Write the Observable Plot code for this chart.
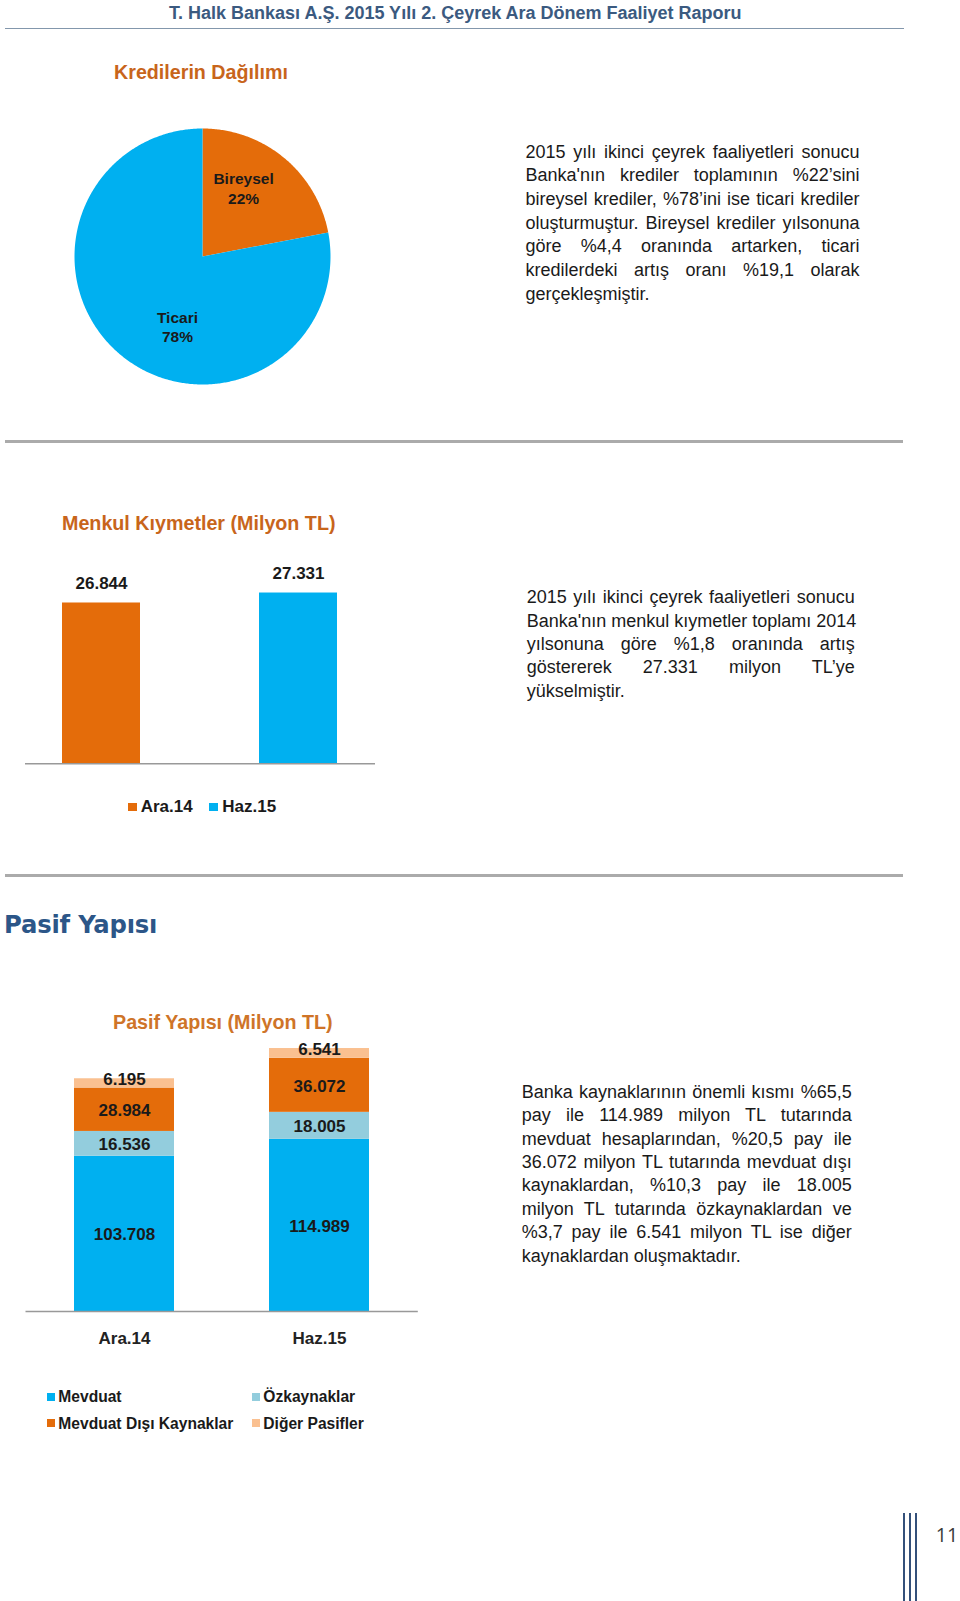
<!DOCTYPE html>
<html><head><meta charset="utf-8">
<script src="https://cdn.jsdelivr.net/npm/d3@7"></script>
<script src="https://cdn.jsdelivr.net/npm/@observablehq/plot@0.6"></script>
<style>
body{margin:0;background:#fff;}
#page{position:relative;width:960px;height:1601px;overflow:hidden;font-family:"Liberation Sans",Arial,sans-serif;color:#1a1a1a;}
.abs{position:absolute;}
.title{font-weight:bold;font-size:19.7px;line-height:24px;white-space:nowrap;}
.para{font-size:18px;color:#1a1a1a;}
.pline{white-space:nowrap;display:block;}
.leg{font-weight:bold;white-space:nowrap;}
</style></head><body><div id="page"></div>
<script>
// ---------- data ----------
const kredilerLabels = ["Bireysel", "Ticari"];
const kredilerPct = [22, 78];

const menkulPeriods = ["Ara.14", "Haz.15"];
const menkulValues = [26844, 27331];
const menkulAxis = [19000, 28000];

const pasifPeriods = ["Ara.14", "Haz.15"];
const pasifSeries = ["Mevduat", "Özkaynaklar", "Mevduat Dışı Kaynaklar", "Diğer Pasifler"];
const mevduat = [103708, 114989];
const ozkaynaklar = [16536, 18005];
const mevduatDisi = [28984, 36072];
const digerPasifler = [6195, 6541];
const pasifAxis = [0, 180000];

// ---------- styles ----------
const ORANGE = "#E46C0A", BLUE = "#00B0F0", LIGHTBLUE = "#93CDDD", PEACH = "#FAC090";
const TITLE_ORANGE = "#C8651B";
const fmt = d3.formatLocale({decimal: ",", thousands: ".", grouping: [3], currency: ["", ""]}).format(",d");
const page = document.getElementById("page");

function div(css, html) {
  const d = document.createElement("div");
  d.className = "abs";
  d.style.cssText += css;
  if (html != null) d.innerHTML = html;
  page.appendChild(d);
  return d;
}
function place(node, left, top) {
  node.style.position = "absolute";
  node.style.left = left + "px";
  node.style.top = top + "px";
  page.appendChild(node);
}
function para(lines, left, firstCenter, width, lh) {
  const box = div(`left:${left}px;top:${firstCenter - lh / 2}px;width:${width}px;`);
  box.className = "abs para";
  lines.forEach((t, i) => {
    const s = document.createElement("span");
    s.className = "pline";
    s.style.height = lh + "px";
    s.style.lineHeight = lh + "px";
    s.textContent = t;
    box.appendChild(s);
    if (i < lines.length - 1) {
      const m = document.createElement("span");
      m.style.cssText = "white-space:nowrap;visibility:hidden;position:absolute;";
      m.textContent = t;
      box.appendChild(m);
      const nat = m.getBoundingClientRect().width;
      box.removeChild(m);
      const spaces = (t.match(/ /g) || []).length;
      if (spaces > 0 && nat < width) s.style.wordSpacing = ((width - nat) / spaces) + "px";
    }
  });
}

// ---------- header ----------
div(`left:169px;top:3px;font-weight:bold;font-size:18px;line-height:20px;color:#3B5A80;white-space:nowrap;`,
  "T. Halk Bankası A.Ş. 2015 Yılı 2. Çeyrek Ara Dönem Faaliyet Raporu");
div("left:5px;top:27.5px;width:899px;height:1.5px;background:#8397AC;");

// ---------- section 1 : pie ----------
div(`left:114px;top:${71.5 - 12}px;color:${TITLE_ORANGE};`, "Kredilerin Dağılımı").className = "abs title";

const arcs = d3.pie().sort(null)(kredilerPct);
const piePts = [];
const pieLbl = [];
arcs.forEach((a, i) => {
  const label = kredilerLabels[i];
  piePts.push({label, x: 0, y: 0});
  const n = Math.max(2, Math.ceil((a.endAngle - a.startAngle) / 0.01));
  for (let k = 0; k <= n; k++) {
    const t = a.startAngle + (a.endAngle - a.startAngle) * k / n;
    piePts.push({label, x: Math.sin(t), y: Math.cos(t)});
  }
  const mid = (a.startAngle + a.endAngle) / 2;
  pieLbl.push({label, text: `${label}\n${kredilerPct[i]}%`, x: Math.sin(mid) * 0.65, y: Math.cos(mid) * 0.65});
});
const pie = Plot.plot({
  width: 260, height: 260, margin: 0,
  style: {fontFamily: "Liberation Sans, Arial, sans-serif", background: "transparent"},
  x: {domain: [-1, 1], range: [2, 258], axis: null},
  y: {domain: [-1, 1], range: [258, 2], axis: null},
  color: {domain: kredilerLabels, range: [ORANGE, BLUE]},
  marks: [
    Plot.line(piePts, {x: "x", y: "y", z: "label", fill: "label", stroke: "none"}),
    Plot.text(pieLbl, {filter: d => d.label === "Bireysel", x: "x", y: "y", text: "text", dx: -12, dy: -4.5,
      fontSize: 15.5, fontWeight: "bold", fill: "#1a1a1a", lineHeight: 1.23}),
    Plot.text(pieLbl, {filter: d => d.label === "Ticari", x: "x", y: "y", text: "text", dx: 28, dy: 6,
      fontSize: 15.5, fontWeight: "bold", fill: "#1a1a1a", lineHeight: 1.23})
  ]
});
place(pie, 72, 126);

para([
  "2015 yılı ikinci çeyrek faaliyetleri sonucu",
  "Banka'nın krediler toplamının %22’sini",
  "bireysel krediler, %78’ini ise ticari krediler",
  "oluşturmuştur. Bireysel krediler yılsonuna",
  "göre %4,4 oranında artarken, ticari",
  "kredilerdeki artış oranı %19,1 olarak",
  "gerçekleşmiştir."
], 525.5, 152.5, 334, 23.7);

div("left:5px;top:440px;width:898px;height:3px;background:#ABABAB;");

// ---------- section 2 : menkul kıymetler ----------
div(`left:62px;top:${523 - 12}px;color:${TITLE_ORANGE};`, "Menkul Kıymetler (Milyon TL)").className = "abs title";

const menkulData = menkulPeriods.map((p, i) => ({period: p, value: menkulValues[i]}));
const menkul = Plot.plot({
  width: 400, height: 210,
  marginLeft: 25, marginRight: 25, marginTop: 18.8, marginBottom: 6.7,
  style: {fontFamily: "Liberation Sans, Arial, sans-serif", background: "transparent"},
  x: {domain: menkulPeriods, paddingInner: 0.604, paddingOuter: 0.19, axis: null},
  y: {domain: menkulAxis, clamp: true, axis: null},
  color: {domain: menkulPeriods, range: [ORANGE, BLUE]},
  marks: [
    Plot.barY(menkulData, {x: "period", y: "value", fill: "period"}),
    Plot.ruleY([menkulAxis[0]], {stroke: "#999", strokeWidth: 1.5}),
    Plot.text(menkulData, {x: "period", y: "value", text: d => fmt(d.value), dy: -19,
      fontSize: 17, fontWeight: "bold", fill: "#1a1a1a"})
  ]
});
place(menkul, 0, 560);

// legend 1
const leg1X = [127.7, 209.3];
menkulPeriods.forEach((p, i) => {
  const x = leg1X[i];
  div(`left:${x}px;top:802.5px;width:9px;height:8.5px;background:${i === 0 ? ORANGE : BLUE};`);
  div(`left:${x + 13}px;top:${806.7 - 10}px;font-size:17px;line-height:20px;`, p).className = "abs leg";
});

para([
  "2015 yılı ikinci çeyrek faaliyetleri sonucu",
  "Banka'nın menkul kıymetler toplamı 2014",
  "yılsonuna göre %1,8 oranında artış",
  "göstererek 27.331 milyon TL’ye",
  "yükselmiştir."
], 526.7, 598, 328, 23.3);

div("left:5px;top:874px;width:898px;height:3px;background:#ABABAB;");

// ---------- section 3 : pasif yapısı ----------
div(`left:4px;top:${925 - 15}px;font-family:'DejaVu Sans',sans-serif;font-weight:bold;font-size:24.3px;line-height:30px;color:#2C5688;white-space:nowrap;letter-spacing:-0.2px;`, "Pasif Yapısı");
div(`left:113px;top:${1022 - 12}px;color:#CF7428;`, "Pasif Yapısı (Milyon TL)").className = "abs title";

const pasifCols = [mevduat, ozkaynaklar, mevduatDisi, digerPasifler];
const pasifData = [];
pasifSeries.forEach((s, j) => pasifPeriods.forEach((p, i) => pasifData.push({period: p, series: s, value: pasifCols[j][i]})));
const topSeries = pasifSeries[pasifSeries.length - 1];
const stackOpts = {x: "period", y: "value", z: "series", order: pasifSeries,
  text: d => fmt(d.value), fontSize: 17, fontWeight: "bold", fill: "#1a1a1a"};

const pasif = Plot.plot({
  width: 440, height: 315,
  marginLeft: 25.5, marginRight: 22.2, marginTop: 6.45, marginBottom: 39,
  style: {fontFamily: "Liberation Sans, Arial, sans-serif", background: "transparent"},
  x: {domain: pasifPeriods, paddingInner: 0.486, paddingOuter: 0.244, label: null},
  y: {domain: pasifAxis, axis: null},
  color: {domain: pasifSeries, range: [BLUE, LIGHTBLUE, ORANGE, PEACH]},
  marks: [
    Plot.barY(pasifData, {x: "period", y: "value", fill: "series", z: "series", order: pasifSeries}),
    Plot.ruleY([0], {stroke: "#999", strokeWidth: 1.5}),
    Plot.text(pasifData, Plot.filter(d => d.series !== topSeries, Plot.stackY({...stackOpts, dy: 1}))),
    Plot.text(pasifData, Plot.filter(d => d.series === topSeries, Plot.stackY({...stackOpts, dy: -3.5}))),
    Plot.axisX({tickSize: 0, tickPadding: 20, fontSize: 17, fontWeight: "bold", fill: "#222", label: null})
  ]
});
place(pasif, 0, 1035);

// legend 2
const legPos = [[46.7, 1396.7], [251.7, 1396.7], [46.7, 1423], [251.7, 1423]];
const legCols = [BLUE, LIGHTBLUE, ORANGE, PEACH];
pasifSeries.forEach((s, j) => {
  const [x, y] = legPos[j];
  div(`left:${x}px;top:${y - 4.2}px;width:8.5px;height:8.5px;background:${legCols[j]};`);
  div(`left:${x + 11.6}px;top:${y - 9.5}px;font-size:15.6px;line-height:19px;`, s).className = "abs leg";
});

para([
  "Banka kaynaklarının önemli kısmı %65,5",
  "pay ile 114.989 milyon TL tutarında",
  "mevduat hesaplarından, %20,5 pay ile",
  "36.072 milyon TL tutarında mevduat dışı",
  "kaynaklardan, %10,3 pay ile 18.005",
  "milyon TL tutarında özkaynaklardan ve",
  "%3,7 pay ile 6.541 milyon TL ise diğer",
  "kaynaklardan oluşmaktadır."
], 521.7, 1092.5, 330, 23.4);

// ---------- page number ----------
[904.3, 910, 915.7].forEach(x => div(`left:${x - 1}px;top:1513px;width:2px;height:88px;background:#34507A;`));
div("left:927px;top:1522px;width:40px;text-align:center;font-family:'Open Sans','Liberation Sans',sans-serif;font-size:19.5px;line-height:26px;color:#3a3a3a;", "11");
</script>
</body></html>
